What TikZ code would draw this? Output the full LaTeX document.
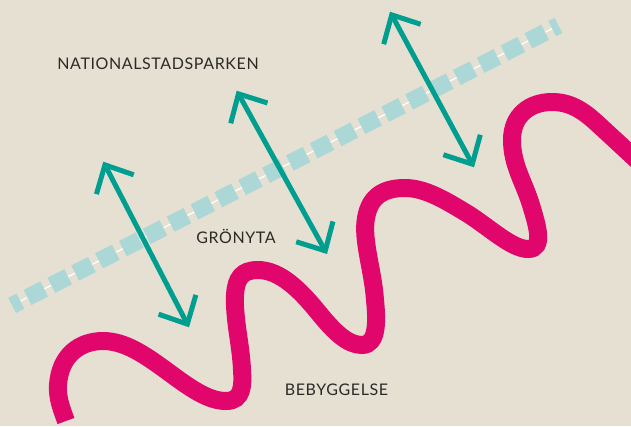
\documentclass[tikz,border=0pt]{standalone}
\usepackage{fontspec}
\setmainfont{Lato}[LetterSpace=3.8]
\usetikzlibrary{arrows.meta}
\definecolor{bg}{HTML}{E6E0D3}
\definecolor{arrowteal}{HTML}{009E8F}
\definecolor{dashblue}{HTML}{ABD7D7}
\definecolor{wavecol}{HTML}{E1066B}
\definecolor{txt}{HTML}{2B2A28}
\tikzset{
  lbl/.style={font=\fontsize{16}{19}\selectfont, text=txt, inner sep=0pt, anchor=base},
  twoway/.style={draw=arrowteal, line width=5pt, line cap=butt,
    {Straight Barb[length=22pt,width=42pt]}-{Straight Barb[length=22pt,width=42pt]}},
  wavestyle/.style={draw=wavecol, line width=18pt, line cap=butt},
  parkline/.style={draw=dashblue, line width=17pt, dash pattern=on 18.8pt off 8pt, dash phase=9.5pt},
  thinwhite/.style={draw=white, line width=1.2pt}
}
\begin{document}
\begin{tikzpicture}[x=1pt,y=-1pt]
\fill[bg] (0,0) rectangle (631,426);
\useasboundingbox (0,0) rectangle (631,426);
\clip (0,0) rectangle (631,426);
% park boundary
\coordinate (dA) at (12.1,305.4);
\coordinate (dB) at (558.5,25.4);
\draw[thinwhite] (dA) -- (dB);
\draw[parkline] (dA) -- (dB);
% built-up edge
\draw[wavestyle] (66,421) .. controls (62,410) and (57,398) .. (58,385)
 .. controls (60,355) and (80,341) .. (103,341)
 .. controls (125,341) and (145,355) .. (167,371)
 .. controls (190,388) and (208,401) .. (226,401)
 .. controls (243,401) and (243,385) .. (242,370)
 .. controls (241,345) and (234,320) .. (235,295)
 .. controls (236,278) and (242,270) .. (258,270)
 .. controls (280,270) and (300,290) .. (318,312)
 .. controls (335,333) and (348,345) .. (362,345)
 .. controls (378,345) and (377,320) .. (375,300)
 .. controls (373,270) and (362,240) .. (366,218)
 .. controls (370,195) and (385,188) .. (405,188)
 .. controls (425,188) and (445,200) .. (468,214)
 .. controls (490,228) and (512,249) .. (528,249)
 .. controls (545,249) and (537,225) .. (531,205)
 .. controls (524,182) and (512,165) .. (512,140)
 .. controls (512,115) and (530,102) .. (552,102)
 .. controls (572,102) and (585,112) .. (600,126)
 -- (640,163);
% arrows
\coordinate (a1t) at (103.3,161.7);
\coordinate (a1b) at (189,327.3);
\coordinate (a2t) at (236.7,90.7);
\coordinate (a2b) at (327,254);
\coordinate (a3t) at (390,11.7);
\coordinate (a3b) at (474,167.3);
\draw[twoway] (a1t) -- (a1b);
\draw[twoway] (a2t) -- (a2b);
\draw[twoway] (a3t) -- (a3b);
% labels
\node[lbl] (np) at (158,69) {NATIONALSTADSPARKEN};
\node[lbl] (gr) at (236,243.5) {GRÖNYTA};
\node[lbl] (bb) at (336.5,395) {BEBYGGELSE};
\end{tikzpicture}
\end{document}
